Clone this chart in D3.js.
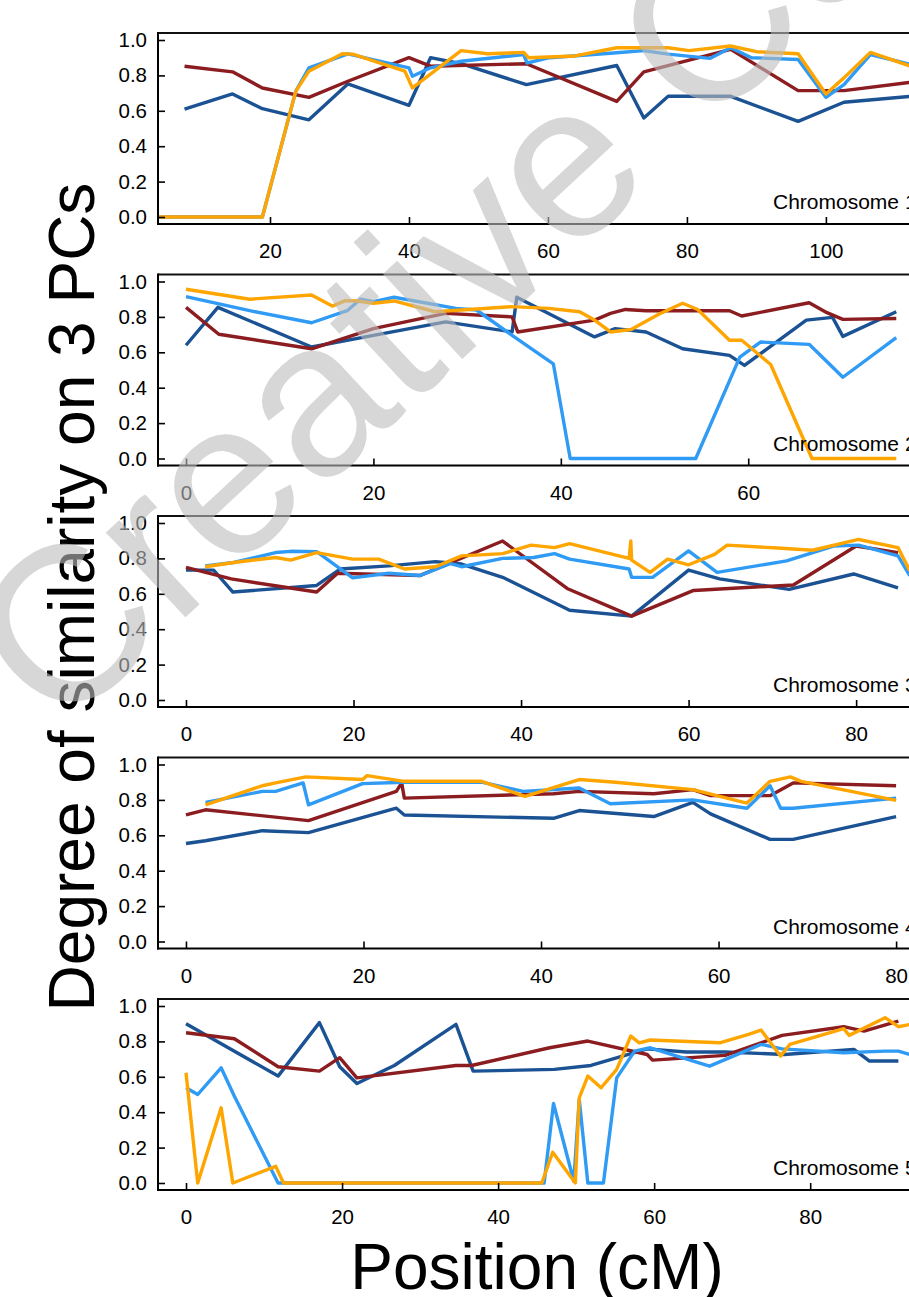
<!DOCTYPE html>
<html><head><meta charset="utf-8">
<script src="https://cdn.jsdelivr.net/npm/d3@7"></script>
<style>body{margin:0;background:#fff} svg{display:block}</style>
</head><body>
<svg id="c" width="909" height="1297"></svg>
<script>
// ---------- data ----------
const chromosomes = ["Chromosome 1","Chromosome 2","Chromosome 3","Chromosome 4","Chromosome 5"];
const yTicks = [0, 0.2, 0.4, 0.6, 0.8, 1.0];
const xTicks1 = [20, 40, 60, 80, 100];
const xTicks2 = [0, 20, 40, 60];
const xTicks3 = [0, 20, 40, 60, 80];
const xTicks4 = [0, 20, 40, 60, 80];
const xTicks5 = [0, 20, 40, 60, 80];
const seriesNames = ["Dark blue", "Dark red", "Light blue", "Orange"];

const chr1Blue = [[7.7,0.61],[14.6,0.695],[18.9,0.612],[25.6,0.549],[31.2,0.752],[40.0,0.631],[43.1,0.90],[47.5,0.866],[56.9,0.748],[69.9,0.856],[73.8,0.559],[77.3,0.682],[86.3,0.682],[96.0,0.54],[102.6,0.648],[112.2,0.682]];
const chr1Red = [[7.7,0.852],[14.6,0.82],[18.9,0.729],[25.6,0.676],[31.2,0.767],[40.0,0.90],[43.1,0.852],[56.9,0.866],[69.9,0.653],[73.8,0.82],[86.3,0.947],[96.0,0.714],[102.6,0.714],[112.2,0.761]];
const chr1Sky = [[3.9,0],[18.9,0],[23.7,0.71],[25.6,0.843],[31.2,0.922],[40.0,0.843],[40.5,0.795],[43.1,0.843],[47.5,0.88],[56.5,0.918],[57.0,0.87],[60.2,0.90],[69.9,0.928],[73.8,0.94],[77.3,0.92],[83.3,0.896],[86.3,0.956],[89.3,0.90],[96.0,0.89],[100.0,0.676],[102.6,0.748],[106.4,0.918],[112.2,0.862]];
const chr1Orange = [[3.9,0],[18.9,0],[23.7,0.71],[25.6,0.824],[30.4,0.922],[31.9,0.92],[39.4,0.824],[40.5,0.729],[47.5,0.94],[51.3,0.922],[56.5,0.93],[57.2,0.90],[63.9,0.91],[69.9,0.956],[77.3,0.956],[80.3,0.94],[86.3,0.966],[90.0,0.934],[96.0,0.922],[100.0,0.695],[102.6,0.786],[106.4,0.93],[112.2,0.852]];

const chr2Blue = [[0,0.64],[3.4,0.854],[13.4,0.63],[20,0.696],[27.7,0.772],[34.8,0.715],[35.3,0.911],[43.6,0.687],[45.8,0.734],[49.1,0.715],[53,0.62],[58,0.583],[59.6,0.526],[66.2,0.782],[69,0.797],[70.1,0.69],[75.8,0.829]];
const chr2Red = [[0,0.854],[3.5,0.702],[13.4,0.62],[20,0.734],[27.7,0.82],[34.8,0.80],[35.4,0.715],[43.6,0.782],[45.3,0.82],[46.9,0.842],[49.1,0.835],[58,0.835],[59.3,0.805],[66.5,0.88],[68.4,0.824],[70.1,0.786],[75.8,0.791]];
const chr2Sky = [[0,0.915],[6.8,0.835],[13.4,0.767],[17.2,0.835],[18.6,0.90],[20,0.886],[22.2,0.911],[28.8,0.848],[31,0.839],[34.8,0.696],[39.2,0.535],[41,0],[54.4,0],[59.1,0.573],[61.3,0.658],[63.2,0.653],[66.5,0.645],[70.1,0.459],[75.8,0.683]];
const chr2Orange = [[0,0.956],[6.8,0.90],[13.4,0.924],[15.6,0.861],[17,0.892],[18.3,0.89],[20,0.877],[22.2,0.89],[26.6,0.829],[34.8,0.858],[38.7,0.848],[42,0.829],[43.6,0.782],[45.3,0.715],[47.5,0.729],[50.5,0.816],[53,0.877],[54.6,0.842],[58,0.668],[59.3,0.668],[62.4,0.531],[66.8,0],[75.8,0]];

const chr3Blue = [[0,0.734],[3.3,0.734],[5.6,0.61],[15.6,0.647],[18.4,0.74],[24.2,0.758],[29.8,0.782],[32.9,0.768],[37.8,0.693],[45.8,0.507],[53.2,0.474],[60,0.734],[63.7,0.684],[72.0,0.625],[79.7,0.712],[85,0.634]];
const chr3Red = [[0,0.749],[5.4,0.684],[15.6,0.61],[18.1,0.716],[27.9,0.703],[37.8,0.898],[45.5,0.63],[53.2,0.474],[60.6,0.619],[72.5,0.65],[80,0.87],[85,0.833]];
const chr3Sky = [[2.3,0.758],[5.7,0.777],[10.7,0.833],[12.5,0.84],[15.6,0.838],[19.9,0.69],[24.2,0.716],[27.9,0.703],[31.6,0.771],[32.9,0.753],[37.8,0.80],[41.5,0.805],[44,0.827],[45.8,0.796],[52.9,0.74],[53.2,0.693],[55.7,0.693],[60,0.842],[63.4,0.721],[71.7,0.786],[77.3,0.87],[80.3,0.875],[85,0.814],[86.4,0.703]];
const chr3Orange = [[2.3,0.753],[5.7,0.777],[10.7,0.805],[12.5,0.79],[15.6,0.833],[19.9,0.796],[23,0.796],[26.1,0.74],[29.8,0.753],[32.9,0.814],[37.8,0.827],[41.2,0.875],[44,0.861],[45.8,0.883],[52.9,0.80],[53.1,0.898],[53.2,0.79],[55.4,0.721],[57.5,0.796],[60,0.764],[63.1,0.823],[64.6,0.875],[71.1,0.857],[74.8,0.846],[80.3,0.907],[85,0.861],[86.4,0.73]];

const chr4Blue = [[0,0.554],[2.2,0.569],[8.6,0.626],[13.8,0.615],[23.7,0.753],[24.6,0.715],[41.4,0.696],[44.3,0.74],[52.7,0.706],[57.1,0.786],[59.1,0.721],[65.8,0.577],[68.4,0.577],[80,0.706]];
const chr4Red = [[0,0.715],[2.2,0.744],[13.8,0.683],[23.7,0.848],[24.3,0.896],[24.6,0.81],[41.4,0.835],[44.3,0.848],[52.7,0.835],[57.1,0.858],[59.1,0.824],[65.8,0.824],[68.4,0.896],[80,0.88]];
const chr4Sky = [[2.2,0.786],[8.6,0.848],[10.1,0.848],[13.2,0.896],[13.8,0.772],[19.9,0.892],[24.6,0.90],[33.3,0.90],[38,0.848],[44.3,0.867],[47.8,0.778],[57.1,0.80],[63.2,0.753],[65.8,0.88],[67,0.753],[68.4,0.753],[80,0.81]];
const chr4Orange = [[2.2,0.772],[8.6,0.88],[10.1,0.896],[13.5,0.93],[19.9,0.915],[20.4,0.937],[24.6,0.905],[33.3,0.905],[38.2,0.82],[44.3,0.915],[48.4,0.90],[57.1,0.858],[63.2,0.782],[65.8,0.905],[68.1,0.93],[69.3,0.905],[80,0.797]];

const chr5Blue = [[0,0.90],[11.8,0.604],[17.1,0.906],[19.7,0.657],[21.9,0.562],[26.7,0.664],[34.6,0.896],[36.8,0.632],[47.2,0.642],[51.9,0.664],[59.1,0.758],[64.1,0.74],[69.1,0.74],[76.7,0.726],[85.6,0.755],[87.6,0.689],[91.3,0.689]];
const chr5Red = [[0,0.849],[6.2,0.815],[11.8,0.657],[17.1,0.632],[19.7,0.708],[21.9,0.594],[34.6,0.664],[36.6,0.664],[46.6,0.764],[51.5,0.802],[59.1,0.726],[59.8,0.694],[69.1,0.721],[76.4,0.834],[84.3,0.883],[86.9,0.858],[91.3,0.915]];
const chr5Sky = [[0,0.538],[1.5,0.50],[4.5,0.651],[6.2,0.49],[11.8,0],[45.9,0],[47.1,0.449],[49.7,0.01],[50.4,0.472],[51.5,0],[53.5,0],[55.2,0.594],[57.5,0.745],[59.5,0.764],[67.1,0.66],[73.7,0.783],[76.4,0.758],[84.3,0.736],[89.6,0.745],[91.3,0.745],[92.8,0.726]];
const chr5Orange = [[0,0.623],[1.5,0],[4.5,0.425],[6,0],[11.5,0.094],[12.5,0],[45.6,0],[47,0.174],[49.9,0],[50.4,0.481],[51.5,0.604],[53.2,0.538],[55.2,0.642],[57,0.83],[58.1,0.792],[59.5,0.808],[68.4,0.792],[72.1,0.84],[73.7,0.864],[76.2,0.717],[77.4,0.783],[84.3,0.872],[85,0.834],[89.6,0.934],[91.3,0.883],[92.8,0.896]];

// ---------- layout / styling ----------
const panelData = [
  [chr1Blue, chr1Red, chr1Sky, chr1Orange],
  [chr2Blue, chr2Red, chr2Sky, chr2Orange],
  [chr3Blue, chr3Red, chr3Sky, chr3Orange],
  [chr4Blue, chr4Red, chr4Sky, chr4Orange],
  [chr5Blue, chr5Red, chr5Sky, chr5Orange]
];
const panelXTicks = [xTicks1, xTicks2, xTicks3, xTicks4, xTicks5];
const xDomains = [[3.88,119.3],[-2.99,82.6],[-3.34,92.4],[-3.15,87.2],[-3.59,99.2]];
const colors = ["#1b5294", "#8b1c1f", "#2f9bf4", "#ffa500"];
const FONT = "'Liberation Sans', Arial, Helvetica, sans-serif";
const left = 158, right = 960;

const svg = d3.select("#c");
svg.append("rect").attr("width",909).attr("height",1297).attr("fill","#fff");

panelData.forEach((series, i) => {
  const top = 33 + 241.5 * i;
  const bottom = top + 191;
  const x = d3.scaleLinear().domain(xDomains[i]).range([left, right]);
  const y = d3.scaleLinear().domain([0, 1]).range([top + 184, top + 7]);
  const g = svg.append("g");

  const clipId = "clip" + i;
  svg.append("clipPath").attr("id", clipId).append("rect")
    .attr("x", left).attr("y", top).attr("width", right - left).attr("height", bottom - top);

  const line = d3.line().x(d => x(d[0])).y(d => y(d[1]));
  const lg = g.append("g").attr("clip-path", `url(#${clipId})`);
  series.forEach((s, k) => {
    lg.append("path").datum(s).attr("d", line)
      .attr("fill", "none").attr("stroke", colors[k])
      .attr("stroke-width", 3.4).attr("stroke-linejoin", "round");
  });

  // y axis
  const ya = g.append("g").attr("transform", `translate(${left},0)`)
    .call(d3.axisLeft(y).tickValues(yTicks).tickFormat(d3.format(".1f"))
      .tickSizeInner(-7).tickSizeOuter(0).tickPadding(11));
  ya.select(".domain").remove();
  ya.selectAll(".tick line").attr("stroke", "#000").attr("stroke-width", 1.6);
  ya.selectAll(".tick text").attr("font-family", FONT).attr("font-size", 20.5).attr("fill", "#000");

  // x axis
  const xa = g.append("g").attr("transform", `translate(0,${bottom})`)
    .call(d3.axisBottom(x).tickValues(panelXTicks[i]).tickFormat(d3.format("d"))
      .tickSizeInner(-7).tickSizeOuter(0));
  xa.select(".domain").remove();
  xa.selectAll(".tick line").attr("stroke", "#000").attr("stroke-width", 1.6);
  xa.selectAll(".tick text").attr("font-family", FONT).attr("font-size", 20.5)
    .attr("fill", "#000").attr("y", 34).attr("dy", null);

  // frame
  g.append("line").attr("x1", left).attr("x2", right).attr("y1", top).attr("y2", top)
    .attr("stroke", "#111").attr("stroke-width", 2);
  g.append("line").attr("x1", left).attr("x2", left).attr("y1", top - 1).attr("y2", bottom + 1)
    .attr("stroke", "#000").attr("stroke-width", 2);
  g.append("line").attr("x1", left - 1).attr("x2", right).attr("y1", bottom).attr("y2", bottom)
    .attr("stroke", "#000").attr("stroke-width", 2.2);

  // chromosome label (cut at the right edge, as in the reference)
  g.append("text").attr("x", 773).attr("y", y(0) - 8)
    .attr("font-family", FONT).attr("font-size", 21).attr("fill", "#000")
    .text(chromosomes[i]);
});

// axis titles
svg.append("text").attr("transform", "translate(94,597) rotate(-90)")
  .attr("text-anchor", "middle").attr("font-family", FONT).attr("font-size", 64)
  .attr("fill", "#000").text("Degree of similarity on 3 PCs");
svg.append("text").attr("x", 537).attr("y", 1289)
  .attr("text-anchor", "middle").attr("font-family", FONT).attr("font-size", 64)
  .attr("fill", "#000").text("Position (cM)");

// watermark
svg.append("text").attr("transform", "translate(58,736) rotate(-43)")
  .attr("font-family", FONT).attr("font-weight", "normal").attr("font-size", 220)
  .attr("fill", "#bdbdbd").attr("opacity", 0.6).text("Creative Commons");
</script></body></html>
